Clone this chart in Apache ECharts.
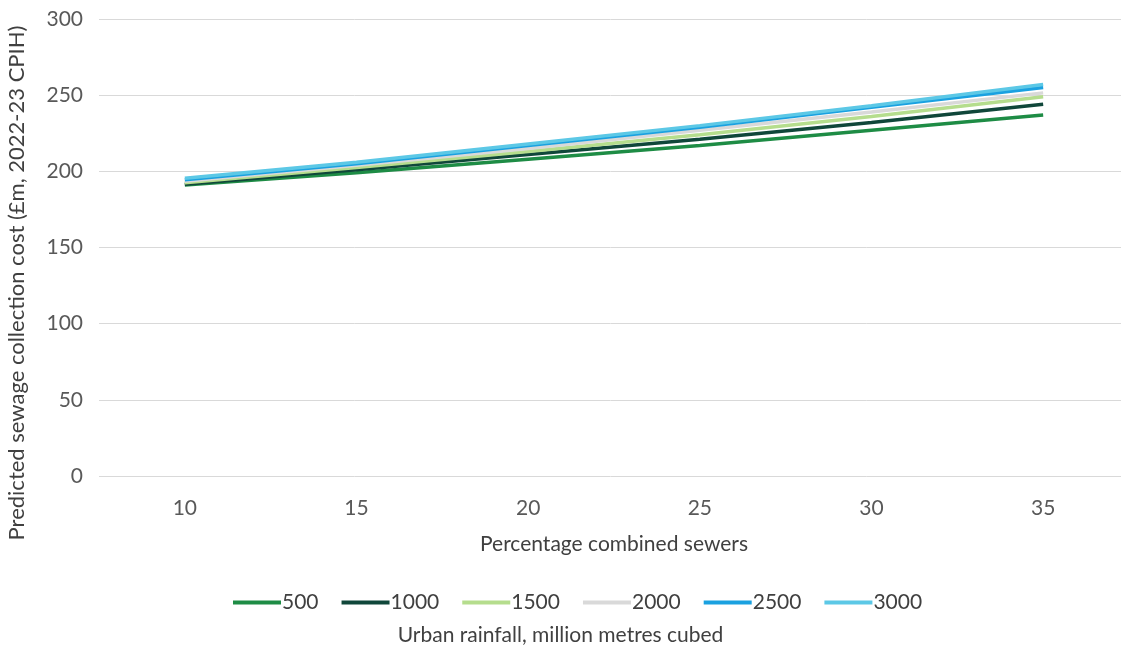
<!DOCTYPE html>
<html><head><meta charset="utf-8">
<script src="https://cdn.jsdelivr.net/npm/echarts@6/dist/echarts.min.js"></script>
<style>html,body{margin:0;padding:0;background:#fff}#c{width:1121px;height:650px}</style>
</head><body><div id="c"></div>
<script>
var categories = ['10','15','20','25','30','35'];
var seriesNames = ['500','1000','1500','2000','2500','3000'];
var s500  = [191, 199, 208, 217, 227, 237];
var s1000 = [191.5, 201, 211, 221, 232, 244];
var s1500 = [192.5, 202.5, 213, 224, 236, 249];
var s2000 = [193.5, 204, 215, 227, 239, 251.5];
var s2500 = [194.5, 205, 217, 229, 242, 255];
var s3000 = [195.5, 206, 218, 230, 243, 257];
var colors = ['#1e8c45','#10473a','#b5dd8d','#d9d9d9','#1aa1e0','#5cc8e6'];
var values = [s500,s1000,s1500,s2000,s2500,s3000];
var font = 'Lato, "Noto Sans", sans-serif';
var chart = echarts.init(document.getElementById('c'));
chart.setOption({
  animation:false,
  color: colors,
  grid:{left:99,width:1030,top:19,bottom:174,outerBoundsMode:'none',containLabel:false},
  legend:{top:587,left:228,icon:'rect',itemWidth:48,itemHeight:4,itemGap:23,
    textStyle:{fontFamily:font,fontSize:21,color:'#404040',padding:[0,0,0,-4]},
    data:seriesNames},
  graphic:[
    {type:'text',left:'center',top:625,style:{text:'Urban rainfall, million metres cubed',font:'21px '+font,fill:'#404040'}},
    {type:'text',x:6,y:283,rotation:Math.PI/2,style:{text:'Predicted sewage collection cost (£m, 2022-23 CPIH)',font:'22px '+font,fill:'#404040',align:'center',verticalAlign:'top'}}
  ],
  xAxis:{type:'category',data:categories,boundaryGap:true,
    axisLine:{show:false},axisTick:{show:false},
    axisLabel:{fontFamily:font,fontSize:21,color:'#595959',margin:22},
    name:'Percentage combined sewers',nameLocation:'middle',nameGap:58,
    nameTextStyle:{fontFamily:font,fontSize:21,color:'#404040'}},
  yAxis:{type:'value',min:0,max:300,interval:50,
    axisLine:{show:false},axisTick:{show:false},
    splitLine:{lineStyle:{color:'#d9d9d9',width:1}},
    axisLabel:{fontFamily:font,fontSize:21,color:'#595959',margin:16}},
  series: seriesNames.map(function(n,i){return {name:n,type:'line',data:values[i],symbol:'none',
    lineStyle:{width:3.5,color:colors[i]},z:10+i};})
});
</script></body></html>
